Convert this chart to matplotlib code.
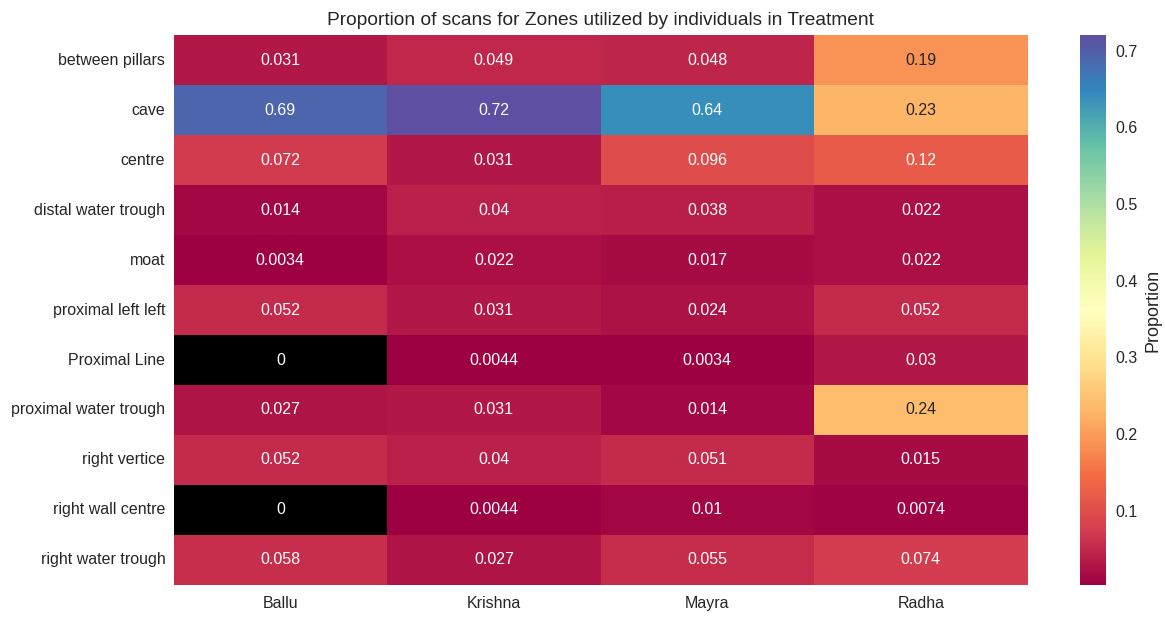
import matplotlib
matplotlib.use('Agg')
import matplotlib.pyplot as plt
import seaborn as sns
import numpy as np
import pandas as pd

zones = ['between pillars', 'cave', 'centre', 'distal water trough', 'moat',
         'proximal left left', 'Proximal Line', 'proximal water trough',
         'right vertice', 'right wall centre', 'right water trough']
individuals = ['Ballu', 'Krishna', 'Mayra', 'Radha']

ballu = [0.031, 0.69, 0.072, 0.014, 0.0034, 0.052, 0, 0.027, 0.052, 0, 0.058]
krishna = [0.049, 0.72, 0.031, 0.04, 0.022, 0.031, 0.0044, 0.031, 0.04, 0.0044, 0.027]
mayra = [0.048, 0.64, 0.096, 0.038, 0.017, 0.024, 0.0034, 0.014, 0.051, 0.01, 0.055]
radha = [0.19, 0.23, 0.12, 0.022, 0.022, 0.052, 0.03, 0.24, 0.015, 0.0074, 0.074]

df = pd.DataFrame({'Ballu': ballu, 'Krishna': krishna, 'Mayra': mayra, 'Radha': radha},
                  index=zones)

sns.set_style('whitegrid')
plt.rcParams['font.family'] = ['Liberation Sans', 'DejaVu Sans']

# zero cells shown in black
cmap = plt.get_cmap('Spectral').copy()
cmap.set_under('black')
vmin = df[df > 0].min().min()

fig = plt.figure(figsize=(11.65, 6.17), dpi=100)
ax = fig.add_axes([0.149, 0.052, 0.733, 0.891])
cax = fig.add_axes([0.927, 0.052, 0.022, 0.891])

sns.heatmap(df, annot=True, cmap=cmap, vmin=vmin, ax=ax, cbar_ax=cax,
            annot_kws={'fontsize': 11.5}, cbar_kws={'label': 'Proportion'})

ax.set_title('Proportion of scans for Zones utilized by individuals in Treatment',
             fontsize=13.75, pad=7)
ax.tick_params(axis='x', labelsize=11.5, length=0, pad=8)
ax.tick_params(axis='y', labelsize=11.5, length=0, pad=6)
ax.set_yticklabels(ax.get_yticklabels(), rotation=0)
cax.tick_params(labelsize=11.5, length=0, pad=7)
cax.set_ylabel('Proportion', fontsize=13, labelpad=5)

fig.savefig('out.png', dpi=100)
